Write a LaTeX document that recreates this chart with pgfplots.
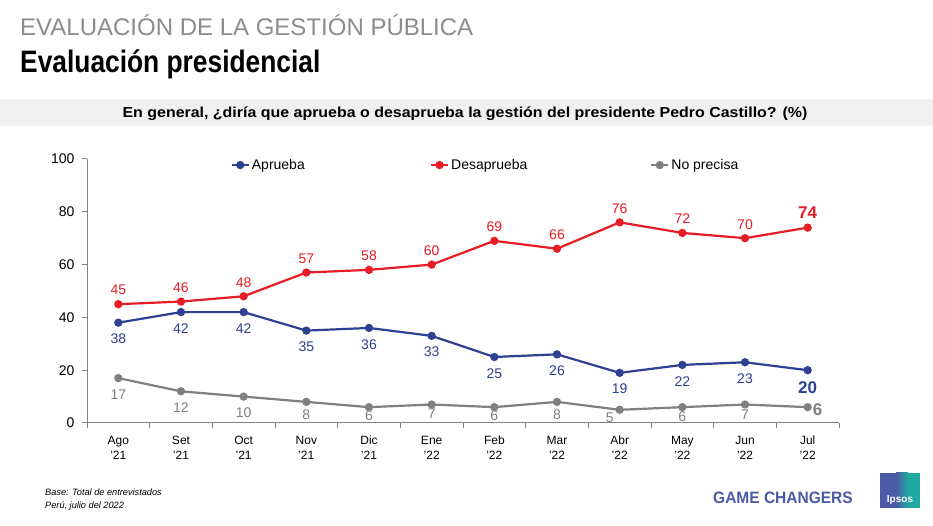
\documentclass[border=0pt]{standalone}
\usepackage{pgfplots}
\pgfplotsset{compat=1.18}
\usepackage{fontspec}
\setmainfont{Liberation Sans}
\definecolor{apb}{RGB}{46,64,145}
\definecolor{des}{RGB}{232,28,36}
\definecolor{nop}{RGB}{128,128,128}
\definecolor{axg}{RGB}{130,130,130}
\definecolor{band}{RGB}{240,240,240}
\definecolor{gc}{RGB}{75,90,165}
\definecolor{ipteal}{RGB}{30,170,160}
\definecolor{ttl}{RGB}{140,140,140}
\newcommand{\tl}[2]{\strut #1\\\symbol{39}#2}
\begin{document}
\begin{tikzpicture}[x=1pt,y=1pt]
\path[use as bounding box, fill=white] (0,0) rectangle (933,526);
\fill[band] (0,400) rectangle (933,427);
\node[anchor=base west, text=ttl, font=\fontsize{24}{25}\selectfont, inner sep=0] at (20,490) {EVALUACIÓN DE LA GESTIÓN PÚBLICA};
\node[anchor=base west, text=black, font=\bfseries\fontsize{31}{32}\selectfont, inner sep=0] at (20,453) {\scalebox{0.85}[1]{Evaluación presidencial}};
\node[anchor=base, text=black, font=\bfseries\fontsize{14.5}{16}\selectfont, inner sep=0] at (465,408) {\scalebox{1.1}[1]{En general, ¿diría que aprueba o desaprueba la gestión del presidente Pedro Castillo? (\%)}};
\node[anchor=base west, font=\itshape\fontsize{9.2}{10}\selectfont, inner sep=0] at (45,30) {Base: Total de entrevistados};
\node[anchor=base west, font=\itshape\fontsize{9.2}{10}\selectfont, inner sep=0] at (45,17) {Perú, julio del 2022};
\node[anchor=base west, text=gc, font=\bfseries\fontsize{16.5}{18}\selectfont, inner sep=0] at (713,22) {\scalebox{0.94}[1]{GAME CHANGERS}};
\fill[gc] (880,18) rectangle (920,53);
\shade[left color=gc, right color=ipteal] (896,18) rectangle (908,53);
\fill[ipteal] (908,18) rectangle (920,53);
\node[anchor=base, text=white, font=\bfseries\fontsize{10}{11}\selectfont, inner sep=0] at (900,23) {Ipsos};
\begin{axis}[
  at={(87pt,103pt)}, anchor=south west, scale only axis,
  width=752pt, height=264pt,
  xmin=-0.5, xmax=11.5, ymin=0, ymax=100,
  axis x line*=bottom, axis y line*=left,
  axis line style={draw=axg, line width=1pt, -},
  ytick={0,20,...,100},
  xtick={0,...,11},
  xticklabels={\tl{Ago}{21},\tl{Set}{21},\tl{Oct}{21},\tl{Nov}{21},\tl{Dic}{21},\tl{Ene}{22},\tl{Feb}{22},\tl{Mar}{22},\tl{Abr}{22},\tl{May}{22},\tl{Jun}{22},\tl{Jul}{22}},
  x tick label style={align=center, font=\fontsize{12}{15.5}\selectfont, yshift=-2pt},
  y tick label style={font=\fontsize{14}{16}\selectfont, xshift=-4pt},
  /pgf/number format/assume math mode=true,
  tick align=outside, major tick length=5pt,
  ytick style={draw=axg, line width=1pt},
  xtick style={draw=none},
  extra x ticks={-0.5,0.5,...,11.5},
  extra x tick labels={},
  extra x tick style={xtick style={draw=axg, line width=1pt}},
  clip=false,
  legend columns=3,
  legend style={draw=none, fill=none, at={(0.1907,0.977)}, anchor=west, font=\fontsize{14}{16}\selectfont, inner sep=0pt},
  legend cell align=left,
]
\addplot[apb, line width=2.2pt, mark=*, mark size=3pt] coordinates {(0,38)(1,42)(2,42)(3,35)(4,36)(5,33)(6,25)(7,26)(8,19)(9,22)(10,23)(11,20)};
\addlegendentry{\makebox[176pt][l]{Aprueba}}
\addplot[des, line width=2.2pt, mark=*, mark size=3pt] coordinates {(0,45)(1,46)(2,48)(3,57)(4,58)(5,60)(6,69)(7,66)(8,76)(9,72)(10,70)(11,74)};
\addlegendentry{\makebox[197pt][l]{Desaprueba}}
\addplot[nop, line width=2.2pt, mark=*, mark size=3pt] coordinates {(0,17)(1,12)(2,10)(3,8)(4,6)(5,7)(6,6)(7,8)(8,5)(9,6)(10,7)(11,6)};
\addlegendentry{No precisa}
% labels
\addplot[forget plot, draw=none, mark=none, nodes near coords, point meta=y,
  every node near coord/.style={anchor=center, yshift=14pt, inner sep=0pt, text=des, font=\fontsize{14}{16}\selectfont}]
  coordinates {(0,45)(1,46)(2,48)(3,57)(4,58)(5,60)(6,69)(7,66)(8,76)(9,72)(10,70)};
\addplot[forget plot, draw=none, mark=none, nodes near coords, point meta=y,
  every node near coord/.style={anchor=center, yshift=15pt, inner sep=0pt, text=des, font=\bfseries\fontsize{17}{18}\selectfont}]
  coordinates {(11,74)};
\addplot[forget plot, draw=none, mark=none, nodes near coords, point meta=y,
  every node near coord/.style={anchor=center, yshift=-16.3pt, inner sep=0pt, text=apb, font=\fontsize{14}{16}\selectfont}]
  coordinates {(0,38)(1,42)(2,42)(3,35)(4,36)(5,33)(6,25)(7,26)(8,19)(9,22)(10,23)};
\addplot[forget plot, draw=none, mark=none, nodes near coords, point meta=y,
  every node near coord/.style={anchor=center, yshift=-17.5pt, inner sep=0pt, text=apb, font=\bfseries\fontsize{17}{18}\selectfont}]
  coordinates {(11,20)};
\addplot[forget plot, draw=none, mark=none, nodes near coords, point meta=explicit,
  every node near coord/.style={anchor=center, inner sep=0pt, text=nop, font=\fontsize{14}{16}\selectfont}]
  coordinates {(0,10.9)[17] (1,5.7)[12] (2,3.9)[10] (3,3.2)[8] (4,2.8)[6] (5,3.7)[7] (6,2.9)[6] (7,3.2)[8] (7.84,2.1)[5] (9,2.5)[6] (10,3.1)[7]};
\addplot[forget plot, draw=none, mark=none, nodes near coords, point meta=y,
  every node near coord/.style={anchor=west, xshift=5pt, yshift=-2.3pt, inner sep=0pt, text=nop, font=\bfseries\fontsize{17}{18}\selectfont}]
  coordinates {(11,6)};
\end{axis}
\end{tikzpicture}
\end{document}
